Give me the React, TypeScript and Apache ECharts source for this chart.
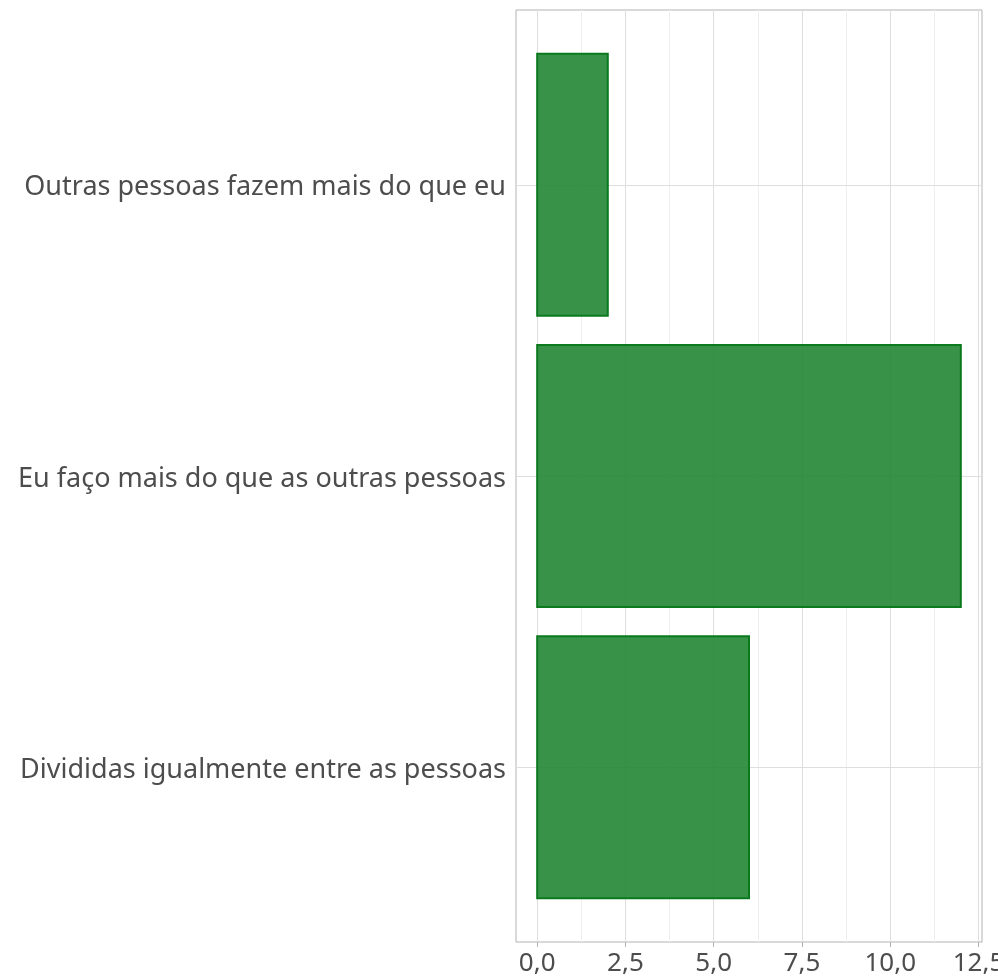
import React, { useEffect, useRef } from "react";
import * as echarts from "echarts";

const categories = [
  "Divididas igualmente entre as pessoas",
  "Eu faço mais do que as outras pessoas",
  "Outras pessoas fazem mais do que eu",
];
const positions = [1, 2, 3];
const values = [6, 12, 2];
const majorTicks = [0, 2.5, 5, 7.5, 10, 12.5];
const minorTicks = [1.25, 3.75, 6.25, 8.75, 11.25];

const FONT = "'Noto Sans', 'Open Sans', sans-serif";

export default function App() {
  const ref = useRef<HTMLDivElement>(null);
  useEffect(() => {
    if (!ref.current) return;
    const chart = echarts.init(ref.current, undefined, { renderer: "svg" });
    const gridLines = [
      ...majorTicks.map((v) => ({ xAxis: v, lineStyle: { color: "#dedede", width: 1 } })),
      ...minorTicks.map((v) => ({ xAxis: v, lineStyle: { color: "#efefef", width: 1 } })),
      ...positions.map((p) => ({ yAxis: p, lineStyle: { color: "#dedede", width: 1 } })),
    ];
    chart.setOption({
      animation: false,
      grid: {
        left: 516,
        top: 10,
        width: 466,
        height: 932,
        outerBoundsMode: "none",
        containLabel: false,
        show: true,
        borderColor: "#b3b3b3",
        borderWidth: 1,
        backgroundColor: "#ffffff",
      },
      xAxis: {
        type: "value",
        min: -0.6,
        max: 12.6,
        axisLine: { show: false },
        splitLine: { show: false },
        axisTick: {
          show: true,
          length: 5,
          customValues: majorTicks,
          lineStyle: { color: "#b3b3b3" },
        },
        axisLabel: {
          customValues: majorTicks,
          formatter: (v: number) => v.toFixed(1).replace(".", ","),
          color: "#4d4d4d",
          fontSize: 26,
          lineHeight: 20,
          fontFamily: FONT,
          margin: 9,
          hideOverlap: false,
        },
      },
      yAxis: {
        type: "value",
        min: 0.4,
        max: 3.6,
        axisLine: { show: false },
        splitLine: { show: false },
        axisTick: {
          show: true,
          length: 5,
          customValues: positions,
          lineStyle: { color: "#b3b3b3" },
        },
        axisLabel: {
          customValues: positions,
          formatter: (v: number) => categories[Math.round(v) - 1] ?? "",
          color: "#4d4d4d",
          fontSize: 27,
          fontFamily: FONT,
          margin: 10,
        },
      },
      series: [
        {
          type: "scatter",
          data: [],
          silent: true,
          z: 1,
          markLine: {
            silent: true,
            symbol: "none",
            label: { show: false },
            lineStyle: { type: "solid" },
            data: gridLines,
          },
        },
        {
          type: "custom",
          z: 5,
          data: values.map((v, i) => [v, positions[i]]),
          renderItem: (params: any, api: any) => {
            const v = api.value(0);
            const p = api.value(1);
            const a = api.coord([0, p + 0.45]);
            const b = api.coord([v, p - 0.45]);
            return {
              type: "rect",
              shape: { x: a[0], y: a[1], width: b[0] - a[0], height: b[1] - a[1] },
              style: {
                fill: "rgba(34,135,52,0.9)",
                stroke: "#0b7a1f",
                lineWidth: 2,
              },
            };
          },
        },
      ],
    });
    return () => chart.dispose();
  }, []);
  return (
    <div
      ref={ref}
      style={{ position: "fixed", left: 0, top: 0, width: 998, height: 977 }}
    />
  );
}
